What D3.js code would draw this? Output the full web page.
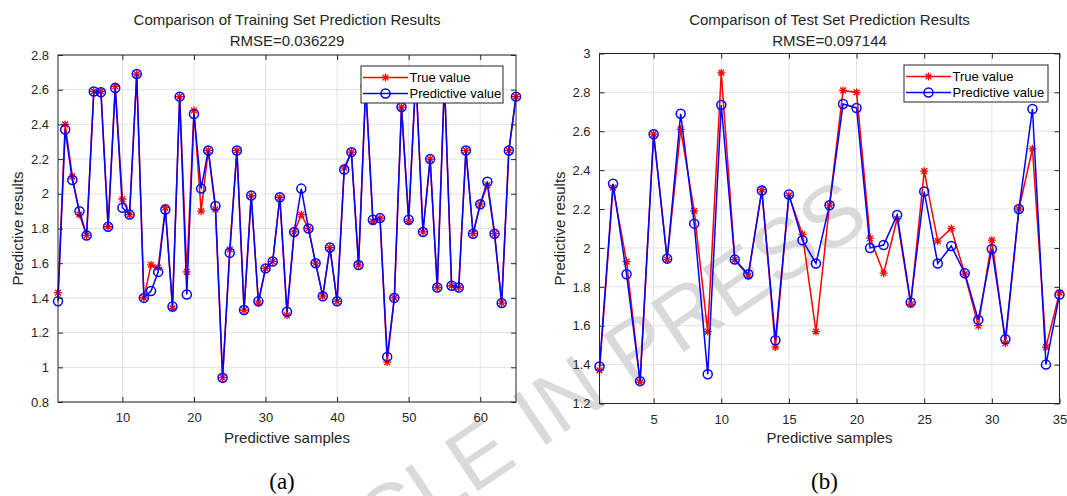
<!DOCTYPE html>
<html>
<head>
<meta charset="utf-8">
<script src="https://cdn.jsdelivr.net/npm/d3@7"></script>
<style>
  html, body { margin: 0; padding: 0; background: #fff; }
  svg { display: block; }
  text { font-family: "Liberation Sans", Arial, sans-serif; }
</style>
</head>
<body>
<svg id="chart" width="1067" height="496"></svg>
<script>
// ---------------- Data ----------------
const trainTitle = "Comparison of Training Set Prediction Results";
const trainRmse = "RMSE=0.036229";
const testTitle = "Comparison of Test Set Prediction Results";
const testRmse = "RMSE=0.097144";

const trainTrue = [1.43,2.40,2.10,1.88,1.76,2.59,2.59,1.81,2.62,1.97,1.88,2.69,1.40,1.59,1.575,1.92,1.34,2.56,1.55,2.48,
  1.90,2.25,1.91,0.94,1.68,2.25,1.33,1.99,1.37,1.57,1.61,1.98,1.30,1.78,1.88,1.80,1.60,1.41,1.69,1.38,
  2.15,2.24,1.59,2.62,1.84,1.86,1.03,1.40,2.50,1.84,2.68,1.78,2.20,1.46,2.65,1.47,1.46,2.25,1.77,1.94,
  2.05,1.77,1.37,2.25,2.56];
const trainPred = [1.38,2.37,2.08,1.90,1.76,2.59,2.585,1.81,2.61,1.92,1.88,2.69,1.40,1.44,1.55,1.91,1.35,2.56,1.42,2.46,
  2.03,2.25,1.93,0.94,1.66,2.25,1.33,1.99,1.38,1.57,1.61,1.98,1.32,1.78,2.03,1.80,1.60,1.41,1.69,1.38,
  2.14,2.24,1.59,2.62,1.85,1.86,1.06,1.40,2.50,1.85,2.68,1.78,2.20,1.46,2.65,1.47,1.46,2.25,1.77,1.94,
  2.07,1.77,1.37,2.25,2.56];

const testTrue = [1.37,2.31,1.93,1.31,2.585,1.94,2.61,2.19,1.57,2.90,1.94,1.855,2.30,1.49,2.27,2.07,1.57,2.22,2.81,2.80,
  2.05,1.87,2.15,1.71,2.395,2.035,2.10,1.865,1.60,2.04,1.51,2.20,2.51,1.49,1.77];
const testPred = [1.39,2.33,1.865,1.315,2.585,1.945,2.69,2.125,1.35,2.735,1.94,1.865,2.295,1.525,2.275,2.04,1.92,2.22,2.74,2.72,
  2.00,2.015,2.17,1.72,2.29,1.92,2.01,1.87,1.63,1.995,1.53,2.20,2.715,1.40,1.76];

const trainXTicks = [10,20,30,40,50,60];
const trainYTicks = [0.8,1.0,1.2,1.4,1.6,1.8,2.0,2.2,2.4,2.6,2.8];
const testXTicks = [5,10,15,20,25,30,35];
const testYTicks = [1.2,1.4,1.6,1.8,2.0,2.2,2.4,2.6,2.8,3.0];

const legendLabels = ["True value", "Predictive value"];
const xLabel = "Predictive samples";
const yLabel = "Predictive results";
const captions = ["(a)", "(b)"];
const watermark = "ARTICLE IN PRESS";

// ---------------- Drawing ----------------
const svg = d3.select("#chart");
const bgLayer = svg.append("g");
const wmLayer = svg.append("g");
const fgLayer = svg.append("g");
const AX = "#262626";
const RED = "#ff0000";
const BLUE = "#0000ff";

function starPath(r) {
  const d = r * 0.72;
  return `M${-r},0L${r},0M0,${-r}L0,${r}M${-d},${-d}L${d},${d}M${-d},${d}L${d},${-d}`;
}

function panel(cfg) {
  const {x0, x1, y0, y1, xDomain, yDomain, xTicks, yTicks, tru, pred, title, rmse, legend, caption} = cfg;
  const b = bgLayer.append("g");
  const g = fgLayer.append("g");
  const x = d3.scaleLinear().domain(xDomain).range([x0, x1]);
  const y = d3.scaleLinear().domain(yDomain).range([y1, y0]);
  const w = x1 - x0, h = y1 - y0;

  b.append("rect").attr("x", x0).attr("y", y0).attr("width", w).attr("height", h).attr("fill", "#fff");

  // grid
  const grid = b.append("g").attr("stroke", "#e3e3e3").attr("stroke-width", 1);
  xTicks.forEach(t => grid.append("line").attr("x1", x(t)).attr("x2", x(t)).attr("y1", y0).attr("y2", y1));
  yTicks.forEach(t => grid.append("line").attr("x1", x0).attr("x2", x1).attr("y1", y(t)).attr("y2", y(t)));

  const fmt = d => d3.format("~g")(+d.toFixed(1));

  // data lines
  const line = d3.line().x(d => x(d[0])).y(d => y(d[1]));
  const tPts = tru.map((v, i) => [i + 1, v]);
  const pPts = pred.map((v, i) => [i + 1, v]);

  g.append("path").attr("d", line(tPts)).attr("fill", "none").attr("stroke", RED).attr("stroke-width", 1.5);
  g.selectAll(null).data(tPts).enter().append("path")
    .attr("transform", d => `translate(${x(d[0])},${y(d[1])})`)
    .attr("d", starPath(4)).attr("stroke", RED).attr("stroke-width", 1.3).attr("fill", "none");

  g.append("path").attr("d", line(pPts)).attr("fill", "none").attr("stroke", BLUE).attr("stroke-width", 1.5);
  g.selectAll(null).data(pPts).enter().append("circle")
    .attr("cx", d => x(d[0])).attr("cy", d => y(d[1])).attr("r", 4.5)
    .attr("fill", "none").attr("stroke", BLUE).attr("stroke-width", 1.5);

  // axes
  const ab = g.append("g").attr("transform", `translate(0,${y1})`)
    .call(d3.axisBottom(x).tickValues(xTicks).tickSizeInner(-5).tickSizeOuter(0).tickPadding(11).tickFormat(fmt));
  const at = g.append("g").attr("transform", `translate(0,${y0})`)
    .call(d3.axisTop(x).tickValues(xTicks).tickSizeInner(-5).tickSizeOuter(0).tickFormat(""));
  const al = g.append("g").attr("transform", `translate(${x0},0)`)
    .call(d3.axisLeft(y).tickValues(yTicks).tickSizeInner(-5).tickSizeOuter(0).tickPadding(9).tickFormat(fmt));
  const ar = g.append("g").attr("transform", `translate(${x1},0)`)
    .call(d3.axisRight(y).tickValues(yTicks).tickSizeInner(-5).tickSizeOuter(0).tickFormat(""));
  [ab, at, al, ar].forEach(a => {
    a.select(".domain").remove();
    a.selectAll(".tick line").attr("stroke", AX);
    a.selectAll("text").attr("fill", AX).style("font-size", "13px").style("font-family", '"Liberation Sans", Arial, sans-serif');
  });

  // box
  g.append("rect").attr("x", x0).attr("y", y0).attr("width", w).attr("height", h)
    .attr("fill", "none").attr("stroke", AX).attr("stroke-width", 1);

  // titles
  const cx = (x0 + x1) / 2;
  g.append("text").attr("x", cx).attr("y", 25).attr("text-anchor", "middle").attr("fill", AX)
    .style("font-size", "15px").text(title);
  g.append("text").attr("x", cx).attr("y", 46).attr("text-anchor", "middle").attr("fill", AX)
    .style("font-size", "15px").text(rmse);
  g.append("text").attr("x", cx).attr("y", 443).attr("text-anchor", "middle").attr("fill", AX)
    .style("font-size", "15px").text(xLabel);
  g.append("text").attr("transform", `translate(${x0 - 35},${(y0 + y1) / 2}) rotate(-90)`)
    .attr("text-anchor", "middle").attr("fill", AX).style("font-size", "15px").text(yLabel);

  // legend
  const L = legend;
  const lg = g.append("g");
  lg.append("rect").attr("x", L.x).attr("y", L.y).attr("width", L.w).attr("height", L.h)
    .attr("fill", "#fff").attr("stroke", AX).attr("stroke-width", 1);
  const rows = [L.y + 11.5, L.y + 27.5];
  const lx0 = L.x + 2, lx1 = L.x + 47, lm = (lx0 + lx1) / 2;
  lg.append("line").attr("x1", lx0).attr("x2", lx1).attr("y1", rows[0]).attr("y2", rows[0]).attr("stroke", RED).attr("stroke-width", 1.5);
  lg.append("path").attr("transform", `translate(${lm},${rows[0]})`).attr("d", starPath(4)).attr("stroke", RED).attr("stroke-width", 1.3);
  lg.append("line").attr("x1", lx0).attr("x2", lx1).attr("y1", rows[1]).attr("y2", rows[1]).attr("stroke", BLUE).attr("stroke-width", 1.5);
  lg.append("circle").attr("cx", lm).attr("cy", rows[1]).attr("r", 4.5).attr("fill", "none").attr("stroke", BLUE).attr("stroke-width", 1.5);
  legendLabels.forEach((t, i) => {
    lg.append("text").attr("x", lx1 + 1.5).attr("y", rows[i]).attr("dy", "0.35em").attr("fill", "#000")
      .style("font-size", "13px").text(t);
  });

  // caption
  g.append("text").attr("x", cx - 5).attr("y", 489).attr("text-anchor", "middle").attr("fill", "#000")
    .style("font-family", '"Liberation Serif", "Times New Roman", serif').style("font-size", "23px").text(caption);
}

panel({
  x0: 58, x1: 516, y0: 55, y1: 402,
  xDomain: [1, 65], yDomain: [0.8, 2.8],
  xTicks: trainXTicks, yTicks: trainYTicks,
  tru: trainTrue, pred: trainPred,
  title: trainTitle, rmse: trainRmse,
  legend: {x: 361, y: 66, w: 142, h: 37},
  caption: captions[0]
});

panel({
  x0: 599.5, x1: 1059.5, y0: 53.5, y1: 403.5,
  xDomain: [1, 35], yDomain: [1.2, 3.0],
  xTicks: testXTicks, yTicks: testYTicks,
  tru: testTrue, pred: testPred,
  title: testTitle, rmse: testRmse,
  legend: {x: 904, y: 65, w: 144, h: 37},
  caption: captions[1]
});

// watermark (drawn under the data, over the plot background)
wmLayer.append("text")
  .attr("transform", "translate(546,445) rotate(-34)")
  .attr("text-anchor", "middle")
  .attr("fill", "#d4d4d4").attr("fill-opacity", 0.85)
  .style("font-size", "86px").style("font-family", '"Liberation Sans", Arial, sans-serif')
  .text(watermark);
</script>
</body>
</html>
